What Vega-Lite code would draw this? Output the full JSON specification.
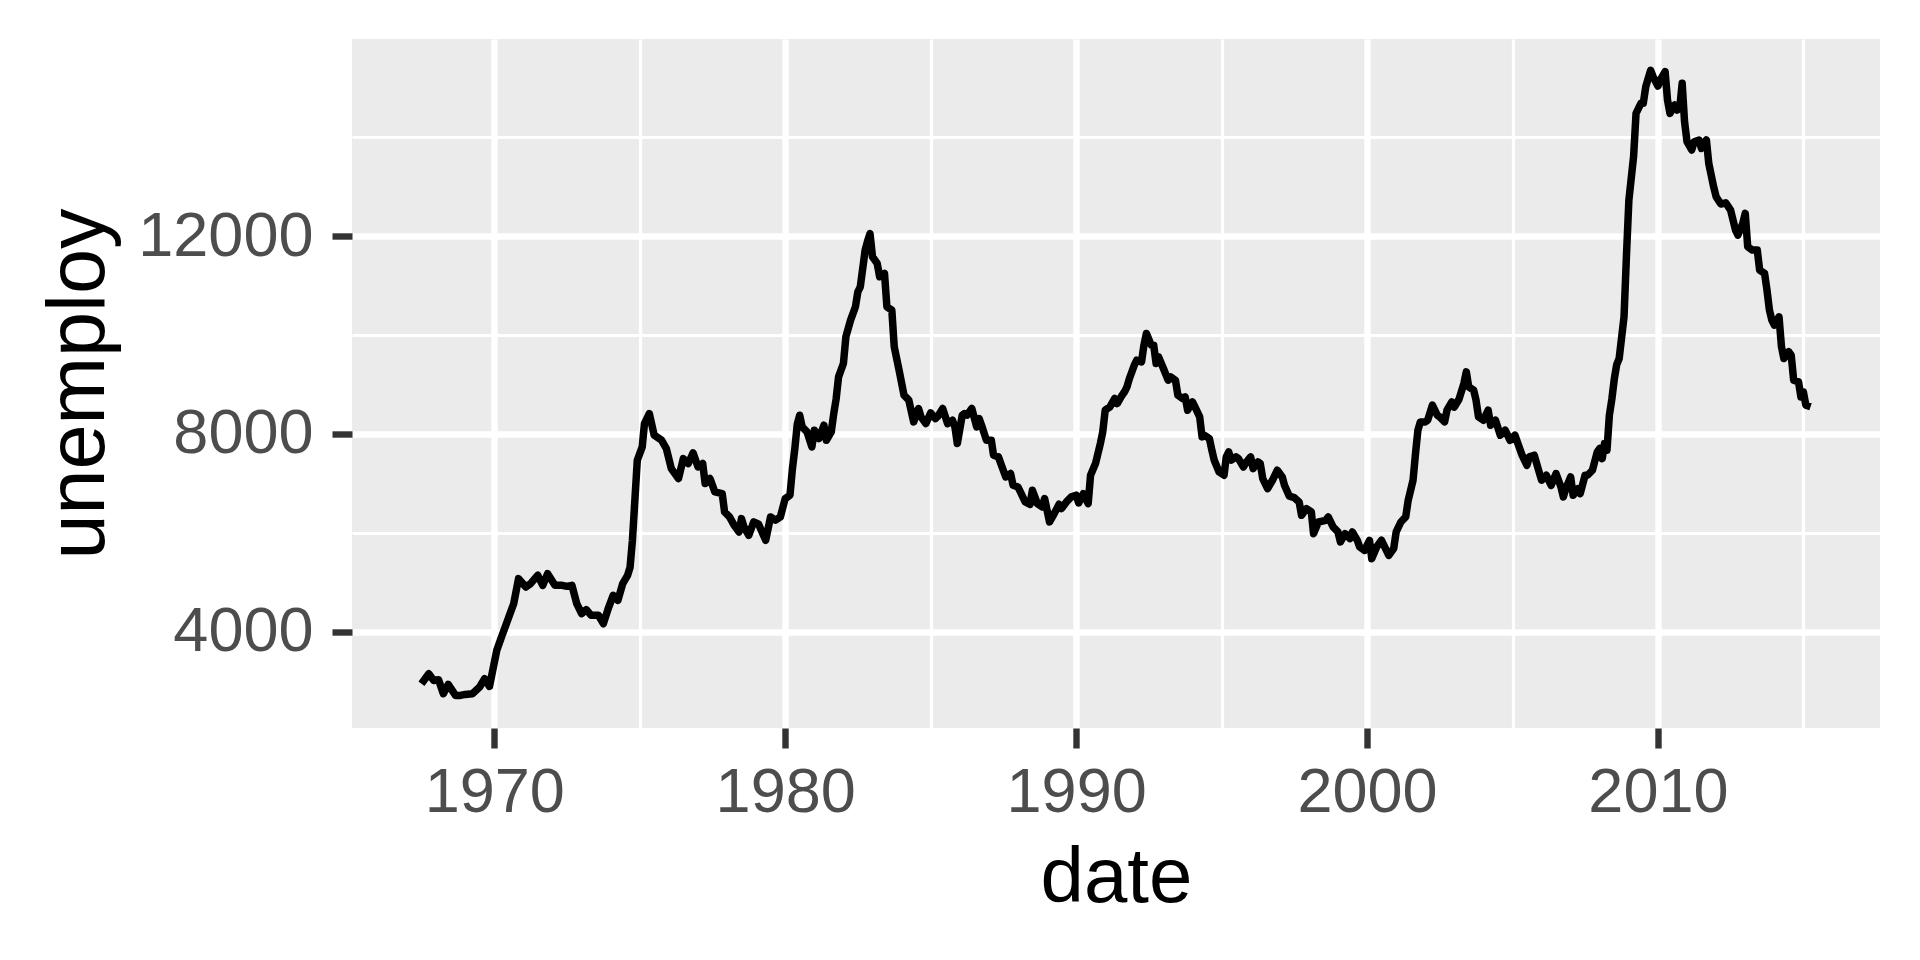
{
  "$schema": "https://vega.github.io/schema/vega-lite/v6.json",
  "width": 1528,
  "height": 689,
  "autosize": "none",
  "padding": {"left": 352, "top": 39, "right": 40, "bottom": 232},
  "background": "white",
  "datasets": {
    "economics": [
      {"date": "1967-07-01", "unemploy": 2947}, {"date": "1967-10-01", "unemploy": 3149}, {"date": "1967-12-01", "unemploy": 3014},
      {"date": "1968-02-01", "unemploy": 3028}, {"date": "1968-04-01", "unemploy": 2745}, {"date": "1968-06-01", "unemploy": 2934},
      {"date": "1968-09-01", "unemploy": 2711}, {"date": "1968-11-01", "unemploy": 2711}, {"date": "1969-01-01", "unemploy": 2731},
      {"date": "1969-04-01", "unemploy": 2745}, {"date": "1969-07-01", "unemploy": 2880}, {"date": "1969-09-01", "unemploy": 3048},
      {"date": "1969-11-01", "unemploy": 2893}, {"date": "1970-02-01", "unemploy": 3622}, {"date": "1970-04-01", "unemploy": 3891},
      {"date": "1970-06-01", "unemploy": 4161}, {"date": "1970-09-01", "unemploy": 4566}, {"date": "1970-11-01", "unemploy": 5072},
      {"date": "1971-02-01", "unemploy": 4903}, {"date": "1971-04-01", "unemploy": 4971}, {"date": "1971-07-01", "unemploy": 5139},
      {"date": "1971-09-01", "unemploy": 4937}, {"date": "1971-11-01", "unemploy": 5173}, {"date": "1972-02-01", "unemploy": 4937},
      {"date": "1972-05-01", "unemploy": 4937}, {"date": "1972-07-01", "unemploy": 4917}, {"date": "1972-09-01", "unemploy": 4937},
      {"date": "1972-11-01", "unemploy": 4566}, {"date": "1973-01-01", "unemploy": 4364}, {"date": "1973-03-01", "unemploy": 4445},
      {"date": "1973-05-01", "unemploy": 4330}, {"date": "1973-08-01", "unemploy": 4330}, {"date": "1973-10-01", "unemploy": 4161},
      {"date": "1973-12-01", "unemploy": 4465}, {"date": "1974-02-01", "unemploy": 4735}, {"date": "1974-04-01", "unemploy": 4633},
      {"date": "1974-06-01", "unemploy": 4971}, {"date": "1974-08-01", "unemploy": 5139}, {"date": "1974-09-01", "unemploy": 5300},
      {"date": "1974-10-01", "unemploy": 5848}, {"date": "1974-12-01", "unemploy": 7467}, {"date": "1975-02-01", "unemploy": 7737},
      {"date": "1975-03-01", "unemploy": 8209}, {"date": "1975-05-01", "unemploy": 8411}, {"date": "1975-07-01", "unemploy": 7973},
      {"date": "1975-10-01", "unemploy": 7872}, {"date": "1975-12-01", "unemploy": 7703}, {"date": "1976-02-01", "unemploy": 7298},
      {"date": "1976-05-01", "unemploy": 7096}, {"date": "1976-07-01", "unemploy": 7501}, {"date": "1976-09-01", "unemploy": 7400},
      {"date": "1976-11-01", "unemploy": 7615}, {"date": "1977-01-01", "unemploy": 7332}, {"date": "1977-03-01", "unemploy": 7400},
      {"date": "1977-04-01", "unemploy": 6995}, {"date": "1977-06-01", "unemploy": 7096}, {"date": "1977-08-01", "unemploy": 6826},
      {"date": "1977-11-01", "unemploy": 6792}, {"date": "1977-12-01", "unemploy": 6421}, {"date": "1978-02-01", "unemploy": 6320},
      {"date": "1978-04-01", "unemploy": 6151}, {"date": "1978-06-01", "unemploy": 6017}, {"date": "1978-07-01", "unemploy": 6286},
      {"date": "1978-08-01", "unemploy": 6118}, {"date": "1978-10-01", "unemploy": 5949}, {"date": "1978-12-01", "unemploy": 6219},
      {"date": "1979-02-01", "unemploy": 6172}, {"date": "1979-05-01", "unemploy": 5848}, {"date": "1979-07-01", "unemploy": 6320},
      {"date": "1979-09-01", "unemploy": 6253}, {"date": "1979-11-01", "unemploy": 6320}, {"date": "1980-01-01", "unemploy": 6691},
      {"date": "1980-03-01", "unemploy": 6759}, {"date": "1980-04-01", "unemploy": 7300}, {"date": "1980-05-01", "unemploy": 7700},
      {"date": "1980-06-01", "unemploy": 8200}, {"date": "1980-07-01", "unemploy": 8377}, {"date": "1980-08-01", "unemploy": 8141},
      {"date": "1980-10-01", "unemploy": 8040}, {"date": "1980-12-01", "unemploy": 7736}, {"date": "1981-01-01", "unemploy": 8074},
      {"date": "1981-03-01", "unemploy": 7905}, {"date": "1981-05-01", "unemploy": 8175}, {"date": "1981-06-01", "unemploy": 7871},
      {"date": "1981-08-01", "unemploy": 8040}, {"date": "1981-09-01", "unemploy": 8400}, {"date": "1981-10-01", "unemploy": 8700},
      {"date": "1981-11-01", "unemploy": 9153}, {"date": "1982-01-01", "unemploy": 9423}, {"date": "1982-02-01", "unemploy": 9963},
      {"date": "1982-04-01", "unemploy": 10300}, {"date": "1982-06-01", "unemploy": 10570}, {"date": "1982-07-01", "unemploy": 10873},
      {"date": "1982-08-01", "unemploy": 10974}, {"date": "1982-10-01", "unemploy": 11717}, {"date": "1982-11-01", "unemploy": 11900},
      {"date": "1982-12-01", "unemploy": 12051}, {"date": "1983-01-01", "unemploy": 11582}, {"date": "1983-03-01", "unemploy": 11447},
      {"date": "1983-04-01", "unemploy": 11177}, {"date": "1983-06-01", "unemploy": 11244}, {"date": "1983-07-01", "unemploy": 10570},
      {"date": "1983-09-01", "unemploy": 10502}, {"date": "1983-10-01", "unemploy": 9760}, {"date": "1983-12-01", "unemploy": 9288},
      {"date": "1984-02-01", "unemploy": 8782}, {"date": "1984-04-01", "unemploy": 8681}, {"date": "1984-06-01", "unemploy": 8242},
      {"date": "1984-08-01", "unemploy": 8512}, {"date": "1984-09-01", "unemploy": 8343}, {"date": "1984-11-01", "unemploy": 8208},
      {"date": "1985-01-01", "unemploy": 8424}, {"date": "1985-03-01", "unemploy": 8310}, {"date": "1985-04-01", "unemploy": 8357},
      {"date": "1985-06-01", "unemploy": 8512}, {"date": "1985-08-01", "unemploy": 8208}, {"date": "1985-10-01", "unemploy": 8276},
      {"date": "1985-11-01", "unemploy": 8141}, {"date": "1985-12-01", "unemploy": 7804}, {"date": "1986-02-01", "unemploy": 8377},
      {"date": "1986-03-01", "unemploy": 8411}, {"date": "1986-04-01", "unemploy": 8378}, {"date": "1986-06-01", "unemploy": 8513},
      {"date": "1986-08-01", "unemploy": 8142}, {"date": "1986-09-01", "unemploy": 8310}, {"date": "1986-10-01", "unemploy": 8175},
      {"date": "1986-12-01", "unemploy": 7872}, {"date": "1987-02-01", "unemploy": 7872}, {"date": "1987-03-01", "unemploy": 7568},
      {"date": "1987-05-01", "unemploy": 7534}, {"date": "1987-07-01", "unemploy": 7265}, {"date": "1987-08-01", "unemploy": 7130},
      {"date": "1987-10-01", "unemploy": 7197}, {"date": "1987-11-01", "unemploy": 6961}, {"date": "1988-01-01", "unemploy": 6927},
      {"date": "1988-02-01", "unemploy": 6826}, {"date": "1988-04-01", "unemploy": 6624}, {"date": "1988-06-01", "unemploy": 6576},
      {"date": "1988-07-01", "unemploy": 6860}, {"date": "1988-09-01", "unemploy": 6590}, {"date": "1988-11-01", "unemploy": 6523},
      {"date": "1988-12-01", "unemploy": 6691}, {"date": "1989-02-01", "unemploy": 6219}, {"date": "1989-04-01", "unemploy": 6388},
      {"date": "1989-06-01", "unemploy": 6576}, {"date": "1989-07-01", "unemploy": 6489}, {"date": "1989-09-01", "unemploy": 6624},
      {"date": "1989-11-01", "unemploy": 6725}, {"date": "1990-01-01", "unemploy": 6759}, {"date": "1990-02-01", "unemploy": 6603},
      {"date": "1990-04-01", "unemploy": 6792}, {"date": "1990-06-01", "unemploy": 6590}, {"date": "1990-07-01", "unemploy": 7164},
      {"date": "1990-09-01", "unemploy": 7399}, {"date": "1990-11-01", "unemploy": 7804}, {"date": "1990-12-01", "unemploy": 8040},
      {"date": "1991-01-01", "unemploy": 8479}, {"date": "1991-03-01", "unemploy": 8546}, {"date": "1991-05-01", "unemploy": 8715},
      {"date": "1991-06-01", "unemploy": 8614}, {"date": "1991-08-01", "unemploy": 8782}, {"date": "1991-09-01", "unemploy": 8851},
      {"date": "1991-10-01", "unemploy": 8951}, {"date": "1991-11-01", "unemploy": 9120}, {"date": "1992-01-01", "unemploy": 9389},
      {"date": "1992-02-01", "unemploy": 9490}, {"date": "1992-04-01", "unemploy": 9456}, {"date": "1992-05-01", "unemploy": 9794},
      {"date": "1992-06-01", "unemploy": 10030}, {"date": "1992-08-01", "unemploy": 9794}, {"date": "1992-09-01", "unemploy": 9794},
      {"date": "1992-10-01", "unemploy": 9423}, {"date": "1992-11-01", "unemploy": 9558}, {"date": "1993-01-01", "unemploy": 9321},
      {"date": "1993-03-01", "unemploy": 9085}, {"date": "1993-04-01", "unemploy": 9153}, {"date": "1993-06-01", "unemploy": 9085},
      {"date": "1993-07-01", "unemploy": 8782}, {"date": "1993-09-01", "unemploy": 8714}, {"date": "1993-10-01", "unemploy": 8748},
      {"date": "1993-11-01", "unemploy": 8478}, {"date": "1994-01-01", "unemploy": 8647}, {"date": "1994-02-01", "unemploy": 8546},
      {"date": "1994-04-01", "unemploy": 8343}, {"date": "1994-05-01", "unemploy": 7939}, {"date": "1994-06-01", "unemploy": 7972},
      {"date": "1994-08-01", "unemploy": 7905}, {"date": "1994-09-01", "unemploy": 7669}, {"date": "1994-10-01", "unemploy": 7466},
      {"date": "1994-12-01", "unemploy": 7230}, {"date": "1995-02-01", "unemploy": 7163}, {"date": "1995-03-01", "unemploy": 7534},
      {"date": "1995-04-01", "unemploy": 7635}, {"date": "1995-05-01", "unemploy": 7466}, {"date": "1995-07-01", "unemploy": 7534},
      {"date": "1995-08-01", "unemploy": 7500}, {"date": "1995-10-01", "unemploy": 7331}, {"date": "1995-11-01", "unemploy": 7412},
      {"date": "1996-01-01", "unemploy": 7534}, {"date": "1996-02-01", "unemploy": 7298}, {"date": "1996-04-01", "unemploy": 7433},
      {"date": "1996-05-01", "unemploy": 7399}, {"date": "1996-06-01", "unemploy": 7095}, {"date": "1996-08-01", "unemploy": 6893},
      {"date": "1996-10-01", "unemploy": 7062}, {"date": "1996-12-01", "unemploy": 7264}, {"date": "1997-02-01", "unemploy": 7129},
      {"date": "1997-03-01", "unemploy": 6960}, {"date": "1997-05-01", "unemploy": 6740}, {"date": "1997-07-01", "unemploy": 6710},
      {"date": "1997-09-01", "unemploy": 6623}, {"date": "1997-10-01", "unemploy": 6353}, {"date": "1997-12-01", "unemploy": 6488},
      {"date": "1998-02-01", "unemploy": 6421}, {"date": "1998-03-01", "unemploy": 5982}, {"date": "1998-05-01", "unemploy": 6218},
      {"date": "1998-08-01", "unemploy": 6252}, {"date": "1998-09-01", "unemploy": 6320}, {"date": "1998-11-01", "unemploy": 6117},
      {"date": "1999-01-01", "unemploy": 6016}, {"date": "1999-02-01", "unemploy": 5814}, {"date": "1999-04-01", "unemploy": 5982},
      {"date": "1999-06-01", "unemploy": 5881}, {"date": "1999-07-01", "unemploy": 6016}, {"date": "1999-09-01", "unemploy": 5847},
      {"date": "1999-10-01", "unemploy": 5712}, {"date": "1999-12-01", "unemploy": 5645}, {"date": "2000-02-01", "unemploy": 5847},
      {"date": "2000-03-01", "unemploy": 5476}, {"date": "2000-05-01", "unemploy": 5712}, {"date": "2000-07-01", "unemploy": 5847},
      {"date": "2000-10-01", "unemploy": 5544}, {"date": "2000-12-01", "unemploy": 5679}, {"date": "2001-01-01", "unemploy": 6016},
      {"date": "2001-03-01", "unemploy": 6218}, {"date": "2001-05-01", "unemploy": 6320}, {"date": "2001-06-01", "unemploy": 6657},
      {"date": "2001-08-01", "unemploy": 7062}, {"date": "2001-09-01", "unemploy": 7601}, {"date": "2001-10-01", "unemploy": 8074},
      {"date": "2001-11-01", "unemploy": 8242}, {"date": "2002-01-01", "unemploy": 8242}, {"date": "2002-02-01", "unemploy": 8276},
      {"date": "2002-04-01", "unemploy": 8580}, {"date": "2002-06-01", "unemploy": 8377}, {"date": "2002-07-01", "unemploy": 8343},
      {"date": "2002-09-01", "unemploy": 8242}, {"date": "2002-10-01", "unemploy": 8478}, {"date": "2002-12-01", "unemploy": 8647},
      {"date": "2003-01-01", "unemploy": 8540}, {"date": "2003-03-01", "unemploy": 8700}, {"date": "2003-05-01", "unemploy": 9018},
      {"date": "2003-06-01", "unemploy": 9254}, {"date": "2003-07-01", "unemploy": 8951}, {"date": "2003-09-01", "unemploy": 8883},
      {"date": "2003-10-01", "unemploy": 8681}, {"date": "2003-11-01", "unemploy": 8343}, {"date": "2004-01-01", "unemploy": 8276},
      {"date": "2004-03-01", "unemploy": 8478}, {"date": "2004-04-01", "unemploy": 8175}, {"date": "2004-06-01", "unemploy": 8276},
      {"date": "2004-08-01", "unemploy": 7972}, {"date": "2004-10-01", "unemploy": 8074}, {"date": "2004-12-01", "unemploy": 7871},
      {"date": "2005-02-01", "unemploy": 7972}, {"date": "2005-04-01", "unemploy": 7703}, {"date": "2005-05-01", "unemploy": 7568},
      {"date": "2005-07-01", "unemploy": 7365}, {"date": "2005-08-01", "unemploy": 7534}, {"date": "2005-10-01", "unemploy": 7568},
      {"date": "2005-12-01", "unemploy": 7230}, {"date": "2006-01-01", "unemploy": 7062}, {"date": "2006-03-01", "unemploy": 7163},
      {"date": "2006-05-01", "unemploy": 6960}, {"date": "2006-07-01", "unemploy": 7197}, {"date": "2006-09-01", "unemploy": 6927},
      {"date": "2006-10-01", "unemploy": 6724}, {"date": "2006-11-01", "unemploy": 6893}, {"date": "2007-01-01", "unemploy": 7129},
      {"date": "2007-02-01", "unemploy": 6758}, {"date": "2007-04-01", "unemploy": 6893}, {"date": "2007-05-01", "unemploy": 6792},
      {"date": "2007-07-01", "unemploy": 7163}, {"date": "2007-08-01", "unemploy": 7163}, {"date": "2007-10-01", "unemploy": 7264},
      {"date": "2007-12-01", "unemploy": 7635}, {"date": "2008-01-01", "unemploy": 7703}, {"date": "2008-02-01", "unemploy": 7500},
      {"date": "2008-03-01", "unemploy": 7804}, {"date": "2008-04-01", "unemploy": 7669}, {"date": "2008-05-01", "unemploy": 8377},
      {"date": "2008-06-01", "unemploy": 8700}, {"date": "2008-07-01", "unemploy": 9100}, {"date": "2008-08-01", "unemploy": 9400},
      {"date": "2008-09-01", "unemploy": 9524}, {"date": "2008-11-01", "unemploy": 10367}, {"date": "2008-12-01", "unemploy": 11581},
      {"date": "2009-01-01", "unemploy": 12728}, {"date": "2009-03-01", "unemploy": 13605}, {"date": "2009-04-01", "unemploy": 14482},
      {"date": "2009-06-01", "unemploy": 14685}, {"date": "2009-07-01", "unemploy": 14685}, {"date": "2009-08-01", "unemploy": 15022},
      {"date": "2009-10-01", "unemploy": 15352}, {"date": "2009-11-01", "unemploy": 15224}, {"date": "2010-01-01", "unemploy": 15035},
      {"date": "2010-02-01", "unemploy": 15157}, {"date": "2010-04-01", "unemploy": 15326}, {"date": "2010-05-01", "unemploy": 14752},
      {"date": "2010-06-01", "unemploy": 14482}, {"date": "2010-08-01", "unemploy": 14651}, {"date": "2010-09-01", "unemploy": 14550},
      {"date": "2010-10-01", "unemploy": 14583}, {"date": "2010-11-01", "unemploy": 15089}, {"date": "2010-12-01", "unemploy": 14314},
      {"date": "2011-01-01", "unemploy": 13909}, {"date": "2011-03-01", "unemploy": 13740}, {"date": "2011-04-01", "unemploy": 13909},
      {"date": "2011-06-01", "unemploy": 13943}, {"date": "2011-07-01", "unemploy": 13774}, {"date": "2011-09-01", "unemploy": 13943},
      {"date": "2011-10-01", "unemploy": 13470}, {"date": "2011-12-01", "unemploy": 12998}, {"date": "2012-01-01", "unemploy": 12796},
      {"date": "2012-03-01", "unemploy": 12647}, {"date": "2012-05-01", "unemploy": 12674}, {"date": "2012-07-01", "unemploy": 12526},
      {"date": "2012-09-01", "unemploy": 12121}, {"date": "2012-10-01", "unemploy": 12020}, {"date": "2012-12-01", "unemploy": 12256},
      {"date": "2013-01-01", "unemploy": 12459}, {"date": "2013-02-01", "unemploy": 11784}, {"date": "2013-04-01", "unemploy": 11716},
      {"date": "2013-06-01", "unemploy": 11716}, {"date": "2013-07-01", "unemploy": 11311}, {"date": "2013-09-01", "unemploy": 11244},
      {"date": "2013-10-01", "unemploy": 10907}, {"date": "2013-11-01", "unemploy": 10500}, {"date": "2013-12-01", "unemploy": 10300},
      {"date": "2014-01-01", "unemploy": 10199}, {"date": "2014-03-01", "unemploy": 10367}, {"date": "2014-04-01", "unemploy": 9760},
      {"date": "2014-05-01", "unemploy": 9524}, {"date": "2014-07-01", "unemploy": 9659}, {"date": "2014-08-01", "unemploy": 9592},
      {"date": "2014-09-01", "unemploy": 9085}, {"date": "2014-11-01", "unemploy": 9052}, {"date": "2014-12-01", "unemploy": 8748},
      {"date": "2015-01-01", "unemploy": 8849}, {"date": "2015-02-01", "unemploy": 8580}, {"date": "2015-04-01", "unemploy": 8549}
    ]
  },
  "data": {"name": "economics"},
  "layer": [
    {
      "mark": {"type": "line", "strokeOpacity": 0},
      "encoding": {
        "x": {
          "field": "date",
          "type": "temporal",
          "scale": {
            "type": "utc",
            "domain": [
              {"year": 1965, "month": 2, "date": 9, "utc": true},
              {"year": 2017, "month": 8, "date": 20, "utc": true}
            ],
            "nice": false
          },
          "axis": {
            "orient": "bottom",
            "values": [
              {"year": 1975, "utc": true}, {"year": 1985, "utc": true}, {"year": 1995, "utc": true},
              {"year": 2005, "utc": true}, {"year": 2015, "utc": true}
            ],
            "grid": true,
            "gridWidth": 3.2,
            "ticks": false,
            "labels": false,
            "domain": false,
            "title": null
          }
        },
        "y": {
          "field": "unemploy",
          "type": "quantitative",
          "scale": {"domain": [2051.65, 15985.35], "nice": false, "zero": false},
          "axis": {
            "orient": "left",
            "values": [6000, 10000, 14000],
            "grid": true,
            "gridWidth": 3.2,
            "ticks": false,
            "labels": false,
            "domain": false,
            "title": null
          }
        }
      }
    },
    {
      "mark": {"type": "line", "color": "black", "strokeWidth": 7.5, "strokeJoin": "round"},
      "encoding": {
        "x": {
          "field": "date",
          "type": "temporal",
          "axis": {
            "orient": "bottom",
            "values": [
              {"year": 1970, "utc": true}, {"year": 1980, "utc": true}, {"year": 1990, "utc": true},
              {"year": 2000, "utc": true}, {"year": 2010, "utc": true}
            ],
            "format": "%Y",
            "grid": true,
            "gridWidth": 6.4,
            "domain": false,
            "labelPadding": 13,
            "labelFlush": false,
            "title": "date",
            "titlePadding": 15
          }
        },
        "y": {
          "field": "unemploy",
          "type": "quantitative",
          "axis": {
            "orient": "left",
            "values": [4000, 8000, 12000],
            "format": "d",
            "grid": true,
            "gridWidth": 6.4,
            "domain": false,
            "labelPadding": 19,
            "labelLimit": 0,
            "title": "unemploy",
            "titleFontSize": 81,
            "titlePadding": 32
          }
        }
      }
    }
  ],
  "resolve": {"axis": {"x": "independent", "y": "independent"}},
  "config": {
    "font": "Liberation Sans",
    "view": {"fill": "#EBEBEB", "stroke": null},
    "axis": {
      "gridColor": "white",
      "gridOpacity": 1,
      "tickColor": "#333333",
      "tickSize": 20,
      "tickWidth": 6.4,
      "labelFont": "Liberation Sans",
      "labelFontSize": 63,
      "labelColor": "#4D4D4D",
      "labelOverlap": false,
      "titleFont": "Liberation Sans",
      "titleFontSize": 78,
      "titleFontWeight": "normal",
      "titleColor": "black"
    }
  }
}
